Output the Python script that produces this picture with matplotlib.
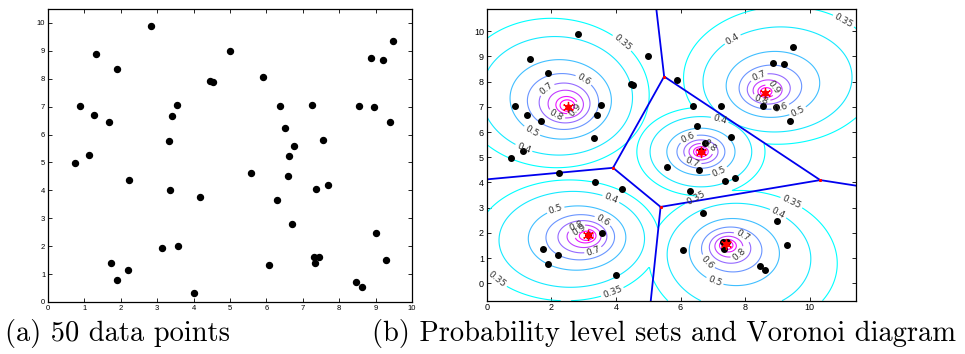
import numpy as np
import matplotlib.pyplot as plt

# 50 data points (same in both panels)
x_pts = [2.83, 1.33, 1.90, 0.88, 1.25, 1.68, 1.13, 3.33, 3.40, 3.54,
         4.46, 4.54, 5.00, 5.90, 6.37, 7.24, 6.50, 6.76, 6.63, 7.56,
         8.54, 8.95, 8.87, 9.20, 9.47, 9.40, 0.75, 2.23, 3.34, 4.18,
         1.74, 2.20, 1.89, 3.13, 3.58, 4.01, 5.58, 6.58, 7.37, 7.68,
         6.28, 6.71, 9.00, 7.32, 7.45, 7.34, 6.08, 9.29, 8.45, 8.62]
y_pts = [9.89, 8.90, 8.36, 7.03, 6.69, 6.45, 5.26, 5.78, 6.66, 7.07,
         7.92, 7.87, 9.00, 8.07, 7.02, 7.05, 6.23, 5.58, 5.24, 5.80,
         7.04, 7.00, 8.74, 8.69, 9.36, 6.44, 4.98, 4.36, 4.01, 3.75,
         1.38, 1.13, 0.78, 1.93, 2.00, 0.31, 4.61, 4.50, 4.04, 4.18,
         3.66, 2.78, 2.46, 1.62, 1.62, 1.38, 1.34, 1.50, 0.70, 0.54]

# cluster centres (red stars) and the shape of each cluster's level sets
cx = [2.53, 8.62, 6.63, 3.13, 7.42]
cy = [7.01, 7.56, 5.22, 1.90, 1.55]
sx = [1.00, 0.88, 0.70, 0.95, 0.85]
sy = [1.00, 0.78, 0.62, 0.82, 0.80]
skew_x = [0.15, -0.16, 0.0, 0.22, -0.17]
skew_y = [-0.18, -0.25, 0.0, 0.08, 0.23]
ka = [0.5, 0.4, 0.5, 0.5, 0.4]
kp = [0.30, 0.25, 0.30, 0.30, 0.25]
levels = [0.35, 0.4, 0.5, 0.6, 0.7, 0.8, 0.9, 0.95]

xlim_b = (0, 11.43)
ylim_b = (-0.69, 10.87)

fig = plt.figure(figsize=(9.65, 3.54), dpi=100)
tick_font = 'Liberation Sans'

# ---- (a) data points
ax1 = fig.add_axes([48/965, 52/354, 364/965, 293/354])
ax1.plot(x_pts, y_pts, 'ko', ms=4.3)
ax1.set_xlim(0, 10)
ax1.set_ylim(0, 10.5)
ax1.set_xticks(range(0, 11))
ax1.set_yticks(range(0, 11))

# ---- (b) level sets + voronoi
ax2 = fig.add_axes([486.7/965, 53.3/354, 369.3/965, 291.4/354])
X, Y = np.meshgrid(np.linspace(xlim_b[0], xlim_b[1], 500),
                   np.linspace(ylim_b[0], ylim_b[1], 500))
Z = np.zeros_like(X)
for k in range(len(cx)):
    ux = (X - cx[k]) / sx[k]
    uy = (Y - cy[k]) / sy[k]
    d = np.sqrt(ux**2 + uy**2) + skew_x[k]*ux + skew_y[k]*uy
    f = (1 + (d/ka[k])**2) ** (-kp[k])
    Z = np.maximum(Z, f)

cs = ax2.contour(X, Y, Z, levels=levels, cmap='cool', vmin=0.35, vmax=0.95,
                 linewidths=0.8)
ax2.clabel(cs, fmt='%g', fontsize=6.5, colors='#333333', inline=True,
           inline_spacing=2)

# voronoi edges of the centres, clipped to the axes box
c = np.array([cx, cy]).T
verts = []
for i in range(len(c)):
    for j in range(i+1, len(c)):
        m = (c[i] + c[j]) / 2
        dv = np.array([-(c[j]-c[i])[1], (c[j]-c[i])[0]])
        dv = dv / np.linalg.norm(dv)
        lo, hi = -1e9, 1e9
        for k in range(len(c)):
            if k in (i, j):
                continue
            A = 2*m.dot(c[k]-c[i]) + c[i].dot(c[i]) - c[k].dot(c[k])
            B = 2*dv.dot(c[k]-c[i])
            if abs(B) < 1e-12:
                if A > 0:
                    lo, hi = 1, 0
                continue
            t = -A / B
            if B > 0:
                hi = min(hi, t)
            else:
                lo = max(lo, t)
        for ax_i, (a0, a1) in enumerate([xlim_b, ylim_b]):
            if abs(dv[ax_i]) < 1e-12:
                continue
            t0 = (a0 - m[ax_i]) / dv[ax_i]
            t1 = (a1 - m[ax_i]) / dv[ax_i]
            lo = max(lo, min(t0, t1))
            hi = min(hi, max(t0, t1))
        if lo < hi:
            p0 = m + lo*dv
            p1 = m + hi*dv
            ax2.plot([p0[0], p1[0]], [p0[1], p1[1]], color='#0000ee', lw=1.3)
            for p in (p0, p1):
                if xlim_b[0] + 0.01 < p[0] < xlim_b[1] - 0.01 and ylim_b[0] + 0.01 < p[1] < ylim_b[1] - 0.01:
                    verts.append(p)
for p in verts:
    ax2.plot(p[0], p[1], 'r.', ms=2)

ax2.plot(x_pts, y_pts, 'ko', ms=4)
ax2.plot(cx, cy, 'o', color='red', ms=3.5)
ax2.plot(cx, cy, marker=(6, 2, 0), ls='none', color='red', ms=8, mew=0.9)
ax2.set_xlim(*xlim_b)
ax2.set_ylim(*ylim_b)
ax2.set_xticks(range(0, 11, 2))
ax2.set_yticks(range(0, 11))

for ax, ls in ((ax1, 5.5), (ax2, 6.5)):
    ax.tick_params(direction='in', length=3, width=0.6, top=True, right=True,
                   labelsize=ls, pad=2)
    for lab in ax.get_xticklabels() + ax.get_yticklabels():
        lab.set_fontfamily(tick_font)
    for s in ax.spines.values():
        s.set_linewidth(0.9)

fig.text(5/965, 1 - 333/354, '(a) 50 data points', family='cmr10',
         fontsize=20.5, va='center', ha='left')
fig.text(372/965, 1 - 333/354, '(b) Probability level sets and Voronoi diagram',
         family='cmr10', fontsize=20.5, va='center', ha='left')

fig.savefig('out.png', dpi=100)
